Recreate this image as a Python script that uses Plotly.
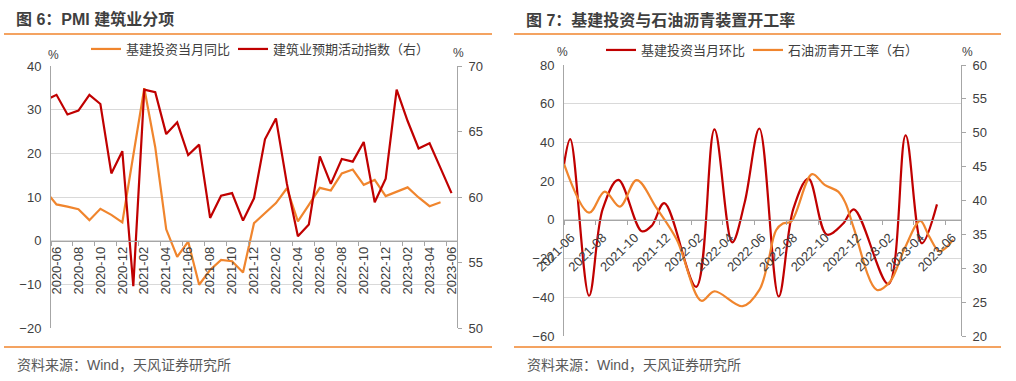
import plotly.graph_objects as go
import pandas as pd

W, H = 1016, 381

# ---------------- Figure 6 data ----------------
months6 = [p.strftime('%Y-%m') for p in pd.period_range('2020-05', '2023-06', freq='M')]
infra_yoy = [11.4, 8.3, 7.8, 7.2, 4.7, 7.3, 5.9, 4.2, None, 34.9,
             21.4, 2.6, -3.7, -0.2, -10.1, -6.7, -4.4, -4.7, -7.3, 4.0,
             None, 8.6, 12.0, 4.4, 8.2, 12.1, 11.5, 15.4, 16.3, 12.8,
             13.9, 10.2, None, 12.2, 9.9, 7.9, 8.8, None]
constr_pmi_exp = [67.4, 67.8, 66.3, 66.6, 67.8, 67.1, 61.8, 63.5, 53.2, 68.2,
                  68.0, 64.8, 65.7, 63.2, 64.0, 58.4, 60.1, 60.3, 58.2, 59.9,
                  64.4, 66.0, 61.0, 57.0, 57.9, 63.1, 61.0, 62.9, 62.7, 64.2,
                  59.6, 61.4, 68.2, 65.8, 63.7, 64.1, 62.2, 60.3]
ticks6 = months6[1::2]

# ---------------- Figure 7 data ----------------
mom_dates = ['2021-06-01', '2021-06-13', '2021-07-19', '2021-08-14', '2021-09-13',
             '2021-10-28', '2021-11-16', '2021-12-10', '2022-02-09', '2022-03-16',
             '2022-04-19', '2022-05-13', '2022-06-10', '2022-07-17', '2022-08-14',
             '2022-09-12', '2022-10-17', '2022-11-17', '2022-12-08', '2023-02-12',
             '2023-03-17', '2023-04-17', '2023-05-16']
infra_mom = [28.6, 41.7, -39.2, 5.5, 20.7,
             -5.9, -3.0, 8.6, -34.6, 46.7,
             -11.6, 9.1, 47.2, -39.6, 5.7,
             21.3, -7.6, -2.0, 5.4, -33.2,
             43.7, -12.1, 8.0]
asph_dates = ['2021-06-01', '2021-07-19', '2021-08-18', '2021-09-16', '2021-10-18',
              '2021-11-25', '2022-01-03', '2022-02-19', '2022-03-16', '2022-05-09',
              '2022-06-10', '2022-06-26', '2022-07-12', '2022-07-25', '2022-08-10',
              '2022-09-19', '2022-10-13', '2022-11-08', '2022-11-22', '2022-12-07',
              '2023-01-21', '2023-02-15', '2023-03-15', '2023-04-14', '2023-05-01',
              '2023-05-21', '2023-06-16']
asphalt_rate = [45.4, 38.2, 41.3, 39.1, 43.0,
                38.9, 34.2, 25.2, 26.6, 24.4,
                26.8, 30.7, 35.6, 36.6, 36.9,
                43.9, 42.3, 41.3, 39.6, 36.1,
                26.8, 28.0, 32.9, 37.0, 34.7,
                32.5, 34.2]
tick7_vals = [d.strftime('%Y-%m-%d') for d in pd.date_range('2021-06-01', '2023-06-01', freq='2MS')]
tick7_text = [d[:7] for d in tick7_vals]

RED = '#C00000'
ORANGE = '#F0852D'
GRID = '#D9D9D9'
AXIS = '#A6A6A6'
TXT = '#404040'
FONT = 'Liberation Sans, Arial, Noto Sans CJK SC, sans-serif'

fig = go.Figure()
fig.add_trace(go.Scatter(x=months6, y=infra_yoy, name='基建投资当月同比', mode='lines',
                         line=dict(color=ORANGE, width=2.2), connectgaps=True,
                         xaxis='x', yaxis='y', legend='legend'))
fig.add_trace(go.Scatter(x=months6, y=constr_pmi_exp, name='建筑业预期活动指数（右）', mode='lines',
                         line=dict(color=RED, width=2.2), xaxis='x', yaxis='y2', legend='legend2'))
fig.add_trace(go.Scatter(x=mom_dates, y=infra_mom, name='基建投资当月环比', mode='lines',
                         line=dict(color=RED, width=2.2, shape='spline', smoothing=1.0),
                         xaxis='x2', yaxis='y3', legend='legend3'))
fig.add_trace(go.Scatter(x=asph_dates, y=asphalt_rate, name='石油沥青开工率（右）', mode='lines',
                         line=dict(color=ORANGE, width=2.2, shape='spline', smoothing=1.0),
                         xaxis='x2', yaxis='y4', legend='legend4'))

# plot-area geometry (pixels)
L1, R1, T1, B1 = 51, 457, 66, 328
L2, R2, T2, B2 = 564, 961, 65, 336
dx1 = [L1 / W, R1 / W]
dy1 = [1 - B1 / H, 1 - T1 / H]
dx2 = [L2 / W, R2 / W]
dy2 = [1 - B2 / H, 1 - T2 / H]

y1r = [-20, 40]
y3r = [-60, 80]
pos_x1 = dy1[0] + (dy1[1] - dy1[0]) * (0 - y1r[0]) / (y1r[1] - y1r[0])
pos_x2 = dy2[0] + (dy2[1] - dy2[0]) * (0 - y3r[0]) / (y3r[1] - y3r[0])

tickfont = dict(family=FONT, size=13, color=TXT)
common = dict(automargin=False, zeroline=False)

def leg(xpx, ypx):
    return dict(orientation='h', x=xpx / W, y=1 - ypx / H, xanchor='left', yanchor='middle',
                font=dict(family=FONT, size=13, color=TXT), bgcolor='rgba(0,0,0,0)',
                itemwidth=30)

fig.update_layout(
    template='none',
    width=W, height=H, margin=dict(l=0, r=0, t=0, b=0, pad=0, autoexpand=False),
    paper_bgcolor='white', plot_bgcolor='white',
    font=dict(family=FONT, color=TXT),
    xaxis=dict(domain=dx1, type='category', categoryorder='array', categoryarray=months6,
               range=[0.5, len(months6) - 0.5], tickmode='array', tickvals=ticks6,
               tickangle=-90, tickfont=tickfont, showgrid=False, showline=True,
               linecolor=AXIS, linewidth=1, ticks='outside', ticklen=4, tickcolor=AXIS,
               tickson='boundaries', anchor='free', position=pos_x1, **common),
    yaxis=dict(domain=dy1, range=y1r, dtick=10, tick0=0, showgrid=True, gridcolor=GRID,
               showline=True, linecolor=AXIS, tickfont=tickfont,
               ticks='', ticklabelstandoff=6, anchor='x', **common),
    yaxis2=dict(range=[50, 70], dtick=5, tick0=50, overlaying='y', side='right', anchor='x',
                showgrid=False, showline=True, linecolor=AXIS,
                ticks='outside', ticklen=4, tickcolor=AXIS, tickfont=tickfont,
                ticklabelstandoff=4, **common),
    xaxis2=dict(domain=dx2, type='date', range=['2021-06-01', '2023-07-01'],
                tickmode='array', tickvals=tick7_vals, ticktext=tick7_text, tickangle=-45,
                tickfont=tickfont, showgrid=False, showline=True, linecolor=AXIS,
                ticks='outside', ticklen=4, tickcolor=AXIS, ticklabelshift=7,
                anchor='free', position=pos_x2, **common),
    yaxis3=dict(domain=dy2, range=y3r, dtick=20, tick0=0, showgrid=True, gridcolor=GRID,
                showline=True, linecolor=AXIS, tickfont=tickfont,
                ticks='', ticklabelstandoff=6, anchor='x2', **common),
    yaxis4=dict(range=[20, 60], dtick=5, tick0=20, overlaying='y3', side='right', anchor='x2',
                showgrid=False, showline=True, linecolor=AXIS,
                ticks='outside', ticklen=4, tickcolor=AXIS, tickfont=tickfont,
                ticklabelstandoff=4, **common),
    legend=leg(86, 49),
    legend2=leg(233, 49),
    legend3=leg(601, 50),
    legend4=leg(748, 50),
    showlegend=True,
)

ann = []
def txt(x, y, s, size=13, color=TXT, bold=False, xanchor='left'):
    ann.append(dict(x=x / W, y=1 - y / H, xref='paper', yref='paper', text=('<b>%s</b>' % s) if bold else s,
                    showarrow=False, xanchor=xanchor, yanchor='middle',
                    font=dict(family=FONT, size=size, color=color)))

txt(14, 19, '图 6：PMI 建筑业分项', size=16, color='#3F3F3F', bold=True)
txt(524, 20, '图 7：基建投资与石油沥青装置开工率', size=16, color='#3F3F3F', bold=True)
txt(15, 365, '资料来源：Wind，天风证券研究所', size=14, color='#595959')
txt(525, 365, '资料来源：Wind，天风证券研究所', size=14, color='#595959')
txt(53, 55, '%', size=12, xanchor='center')
txt(458, 53, '%', size=12, xanchor='center')
txt(562, 52, '%', size=12, xanchor='center')
txt(967, 52, '%', size=12, xanchor='center')
fig.update_layout(annotations=ann)

shapes = []
for (x0, x1) in [(4, 492), (514, 1001)]:
    for yy in [34, 347]:
        shapes.append(dict(type='line', xref='paper', yref='paper', x0=x0 / W, x1=x1 / W,
                           y0=1 - yy / H, y1=1 - yy / H, line=dict(color='#F0852D', width=1.5)))
fig.update_layout(shapes=shapes)

fig.write_html('out.html', config={'displayModeBar': False},
               post_script="document.body.style.margin='0';document.body.style.padding='0';")
